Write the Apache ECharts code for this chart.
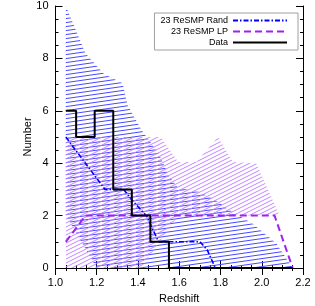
<!DOCTYPE html>
<html>
<head>
<meta charset="utf-8">
<script src="https://cdn.jsdelivr.net/npm/echarts@6/dist/echarts.min.js"></script>
<style>html,body{margin:0;padding:0;background:#fff}#c{width:315px;height:306px}</style>
</head>
<body>
<div id="c"></div>
<script>
// ---- data ----
const histEdges = [1.05, 1.10, 1.19, 1.28, 1.37, 1.46, 1.55, 2.15];
const histCounts = [6, 5, 6, 3, 2, 1, 0, 0];

const randX = [1.05, 1.24, 1.33, 1.37, 1.44, 1.50, 1.70, 1.735, 1.775];
const randY = [5, 3, 3, 2.6, 2, 1, 1, 0.7, 0];

const lpX = [1.05, 1.146, 2.062, 2.15];
const lpY = [1, 2, 2, 0];

// envelope of the random resamplings (upper edge then lower edge back)
const randEnvX = [1.05, 1.145, 1.235, 1.325, 1.35, 1.415, 1.505, 1.55, 1.595, 1.70, 1.775, 1.865, 1.955, 2.07, 2.15, 1.20, 1.05];
const randEnvY = [10, 8.2, 7.4, 7.05, 6.2, 5.3, 4.3, 3.5, 3.05, 2.9, 2.6, 2.1, 1.7, 0.94, 0, 0, 2];

// envelope of the LP resamplings
const lpEnvX = [1.05, 1.51, 1.595, 1.683, 1.788, 1.86, 1.973, 2.086, 1.595, 1.505, 1.415, 1.05];
const lpEnvY = [5, 5, 4.05, 4.05, 5, 4.05, 4, 2, 2, 1, 0, 0];

const legendNames = ['23 ReSMP Rand', '23 ReSMP LP', 'Data'];

// ---- hatch patterns ----
function hatch(w, h, color, lw) {
  const c = document.createElement('canvas');
  c.width = w; c.height = h;
  const g = c.getContext('2d');
  g.strokeStyle = color; g.lineWidth = lw;
  for (let k = -2; k <= 2; k++) {
    g.beginPath();
    g.moveTo(0, h / 2 + k * h / 2 + h / 2);
    g.lineTo(w, k * h / 2 + h / 2);
    g.stroke();
  }
  return c;
}
const blueCanvas = hatch(28, 8, '#4848ff', 1);
const purpleCanvas = hatch(8, 8, '#c486ff', 1);
const bluePat = { image: blueCanvas, repeat: 'repeat' };
const purplePat = { image: purpleCanvas, repeat: 'repeat' };

function polySeries(xs, ys, fill, z) {
  return {
    type: 'custom', silent: true, z: z,
    data: [[xs[0], ys[0]]],
    renderItem: function (params, api) {
      const pts = xs.map((x, i) => api.coord([x, ys[i]]));
      return { type: 'polygon', shape: { points: pts }, style: { fill: fill, stroke: null } };
    }
  };
}

const font = 'Liberation Sans';
const chart = echarts.init(document.getElementById('c'), null, { renderer: 'canvas' });
const axisCommon = {
  type: 'value',
  axisLine: { show: true, lineStyle: { color: '#000', width: 1 } },
  axisTick: { show: true, inside: true, length: 7, lineStyle: { color: '#000' } },
  minorTick: { show: true, splitNumber: 4, length: 3, lineStyle: { color: '#000' } },
  splitLine: { show: false }
};
chart.setOption({
  animation: false,
  backgroundColor: '#fff',
  grid: { left: 55.5, right: 12, top: 6, bottom: 38, containLabel: false, outerBoundsMode: 'none' },
  legend: {
    data: legendNames,
    orient: 'vertical', right: 17, top: 13,
    align: 'right',
    itemWidth: 54, itemHeight: 8, itemGap: 2,
    padding: [3, 10, 3, 6],
    borderColor: '#a0a0a0', borderWidth: 1,
    itemStyle: { opacity: 0 },
    formatter: n => '{a|' + n + '}',
    textStyle: { fontFamily: font, fontSize: 9, color: '#000',
      rich: { a: { width: 70, align: 'right', fontFamily: font, fontSize: 9 } } }
  },
  xAxis: [
    Object.assign({}, axisCommon, {
      position: 'bottom', min: 1.0, max: 2.2, interval: 0.2,
      name: 'Redshift', nameLocation: 'middle', nameGap: 25, nameMoveOverlap: false,
      nameTextStyle: { fontFamily: font, fontSize: 11, color: '#000' },
      axisLabel: { margin: 9, fontFamily: font, fontSize: 11, color: '#000',
        formatter: v => v.toFixed(1) }
    }),
    Object.assign({}, axisCommon, {
      position: 'top', min: 1.0, max: 2.2, interval: 0.2,
      axisLabel: { show: false }
    })
  ],
  yAxis: [
    Object.assign({}, axisCommon, {
      position: 'left', min: 0, max: 10, interval: 2,
      name: 'Number', nameLocation: 'middle', nameGap: 22, nameMoveOverlap: false,
      nameTextStyle: { fontFamily: font, fontSize: 11, color: '#000' },
      axisLabel: { margin: 7, fontFamily: font, fontSize: 11, color: '#000' }
    }),
    Object.assign({}, axisCommon, {
      position: 'right', min: 0, max: 10, interval: 2,
      axisLabel: { show: false }
    })
  ],
  series: [
    polySeries(randEnvX, randEnvY, bluePat, 1),
    polySeries(lpEnvX, lpEnvY, purplePat, 2),
    {
      name: legendNames[0], type: 'line', symbol: 'none', z: 5,
      data: randX.map((x, i) => [x, randY[i]]),
      lineStyle: { color: '#0000ff', width: 1.6, type: [5, 2, 1.5, 2] },
      itemStyle: { color: '#0000ff' }
    },
    {
      name: legendNames[1], type: 'line', symbol: 'none', z: 5,
      data: lpX.map((x, i) => [x, lpY[i]]),
      lineStyle: { color: '#a020f0', width: 2, type: [7, 4] },
      itemStyle: { color: '#a020f0' }
    },
    {
      name: legendNames[2], type: 'line', symbol: 'none', z: 6, step: 'end',
      data: histEdges.map((x, i) => [x, histCounts[i]]),
      lineStyle: { color: '#000', width: 2 },
      itemStyle: { color: '#000' }
    }
  ]
});
</script>
</body>
</html>
